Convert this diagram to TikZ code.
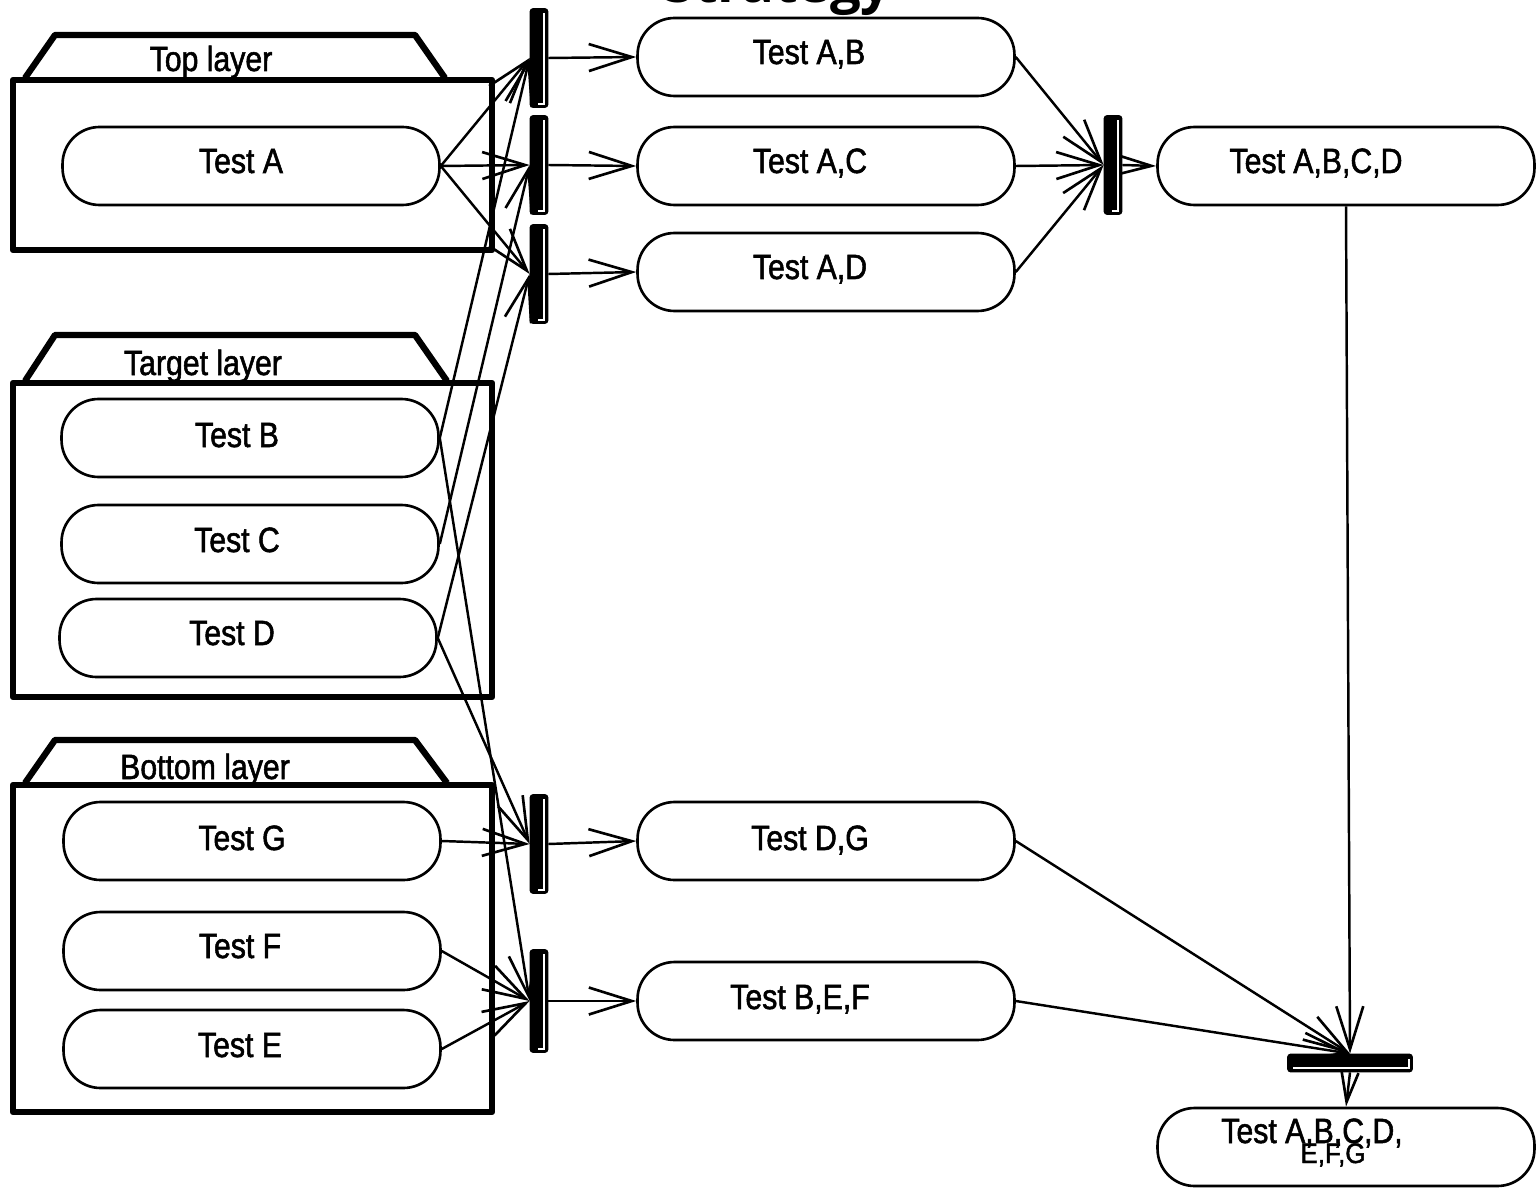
\documentclass[tikz,border=0pt]{standalone}
\usepackage{fontspec}
\usepackage{graphicx}
\setmainfont{Liberation Sans}
\newfontfamily\lblfont{Liberation Sans}[FakeStretch=0.86,FakeBold=1.5]
\newfontfamily\titlefont{Open Sans}
\usetikzlibrary{arrows.meta,calc}

\tikzset{
  act/.style={draw, line width=1.5pt, rounded corners=0.74cm,
    minimum width=7.54cm, minimum height=1.56cm, inner sep=0pt},
  lbl/.style={font=\lblfont\fontsize{20}{20}\selectfont, inner sep=0pt, anchor=base},
  pkg/.style={line width=3.6pt, line join=round},
  barv/.style={draw, fill=black, line width=1pt, rounded corners=1.5pt,
    minimum width=0.34cm, minimum height=1.96cm, inner sep=0pt},
  barh/.style={draw, fill=black, line width=1pt, rounded corners=1.5pt,
    minimum width=2.48cm, minimum height=0.34cm, inner sep=0pt},
  flow/.style={line width=1.4pt,
    -{Straight Barb[length=0.86cm,width=0.54cm,line width=1.5pt]}},
  shortflow/.style={line width=1.4pt,
    -{Straight Barb[length=0.6cm,width=0.34cm,line width=1.5pt]}},
  hilite/.style={white, line width=1.1pt},
}

\begin{document}
\begin{tikzpicture}[x=0.02cm, y=-0.02cm]
\useasboundingbox (0,0) rectangle (1537,1189);
\clip (0,0) rectangle (1537,1189);

% title, mostly above the page edge
\node[font=\titlefont\bfseries\fontsize{31}{31}\selectfont, anchor=base, inner sep=0pt]
  (title) at (778,3) {Strategy};

% packages: tab + body
\draw[pkg] (25,78) -- (55,35) -- (415,35) -- (445,78);
\draw[pkg] (13,80) rectangle (492,250);
\node[lbl] (pk-top) at (211,71) {Top layer};

\draw[pkg] (25,381) -- (55,335) -- (415,335) -- (447,381);
\draw[pkg] (13,383) rectangle (492,697);
\node[lbl] (pk-target) at (203,375) {Target layer};

\draw[pkg] (25,783) -- (55,740) -- (415,740) -- (447,783);
\draw[pkg] (13,785) rectangle (492,1112);
\node[lbl] (pk-bottom) at (205,779) {Bottom layer};

% activities
\node[act] (ta) at (251,166) {};
\node[act] (tb) at (250,438) {};
\node[act] (tc) at (250,544) {};
\node[act] (td) at (248,638) {};
\node[act] (tg) at (252,841) {};
\node[act] (tf) at (252,951) {};
\node[act] (te) at (252,1049) {};
\node[act] (ab) at (826,57) {};
\node[act] (ac) at (826,166) {};
\node[act] (ad) at (826,272) {};
\node[act] (abcd) at (1346,166) {};
\node[act] (dg) at (826,841) {};
\node[act] (bef) at (826,1001) {};
\node[act] (all) at (1346,1147) {};

\node[lbl] (ta-l) at (241,173) {Test A};
\node[lbl] (tb-l) at (237,447) {Test B};
\node[lbl] (tc-l) at (237,552) {Test C};
\node[lbl] (td-l) at (232,645) {Test D};
\node[lbl] (tg-l) at (242,850) {Test G};
\node[lbl] (tf-l) at (240,958) {Test F};
\node[lbl] (te-l) at (240,1057) {Test E};
\node[lbl] (ab-l) at (809,64) {Test A,B};
\node[lbl] (ac-l) at (810,173) {Test A,C};
\node[lbl] (ad-l) at (810,279) {Test A,D};
\node[lbl] (abcd-l) at (1316,173) {Test A,B,C,D};
\node[lbl] (dg-l) at (810,850) {Test D,G};
\node[lbl] (bef-l) at (800,1009) {Test B,E,F};
\node[lbl] (all-l1) at (1312,1143) {Test A,B,C,D,};
\node[lbl] (all-l2) at (1333,1163) {\scalebox{0.86}[0.8]{E,F,G}};

% fork / join bars
\node[barv] (b1) at (539,58) {};
\node[barv] (b2) at (539,165) {};
\node[barv] (b3) at (539,274) {};
\node[barv] (b4) at (539,844) {};
\node[barv, minimum height=2.04cm] (b5) at (539,1001) {};
\node[barv] (bj) at (1113,165) {};
\node[barh] (bh) at (1350,1063) {};

\foreach \b in {b1,b2,b3,b4,b5,bj}
  \draw[hilite] ($(\b.north east)+(-4,5)$) |- ($(\b.south west)+(8,-4)$);
\draw[hilite] ($(bh.south west)+(6,-4)$) -| ($(bh.north east)+(-4,5)$);

% flows into the forks
\draw[flow] (ta.east) -- (b1.west);
\draw[flow] (ta.east) -- (b2.west);
\draw[flow] (ta.east) -- (b3.west);
\draw[flow] (tb.east) -- (b1.west);
\draw[flow] (tc.east) -- (b2.west);
\draw[flow] (td.east) -- (b3.west);
\draw[flow] (td.east) -- (b4.west);
\draw[flow] (tg.east) -- (b4.west);
\draw[flow] (tb.east) -- (b5.west);
\draw[flow] (tf.east) -- (b5.west);
\draw[flow] (te.east) -- (b5.west);

% flows out of the forks
\draw[flow] (b1.east) -- (ab.west);
\draw[flow] (b2.east) -- (ac.west);
\draw[flow] (b3.east) -- (ad.west);
\draw[flow] (b4.east) -- (dg.west);
\draw[flow] (b5.east) -- (bef.west);

% first join
\draw[flow] (ab.east) -- (bj.west);
\draw[flow] (ac.east) -- (bj.west);
\draw[flow] (ad.east) -- (bj.west);
\draw[shortflow] (bj.east) -- (abcd.west);

% final join
\draw[flow] (abcd.south) -- (bh.north);
\draw[flow] (dg.east) -- (bh.north);
\draw[flow] (bef.east) -- (bh.north);
\draw[shortflow] (bh.south) -- (all.north);
\end{tikzpicture}
\end{document}
